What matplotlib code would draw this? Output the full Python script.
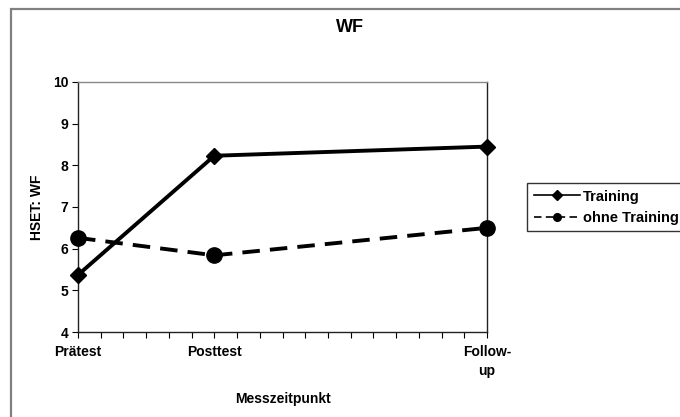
import matplotlib.pyplot as plt
from matplotlib.patches import Rectangle

plt.rcParams['font.family'] = ['Liberation Sans', 'DejaVu Sans']
plt.rcParams['font.weight'] = 'bold'

# Messzeitpunkte (Monate) und Beschriftungen
zeit = [0, 6, 18]
zeit_labels = ['Prätest', 'Posttest', 'Follow-\nup']

training = [5.37, 8.23, 8.45]
ohne_training = [6.26, 5.84, 6.50]

fs = 10

fig = plt.figure(figsize=(6.8, 4.17), dpi=100)
ax = fig.add_axes([78 / 680, 85 / 417, 409 / 680, 250 / 417])

ax.plot(zeit, training, color='black', lw=2.8, marker='D', ms=8.5,
        label='Training', clip_on=False, zorder=3)
ax.plot(zeit, ohne_training, color='black', lw=2.8, marker='o', ms=11,
        dashes=(4.5, 2.6), label='ohne Training', clip_on=False, zorder=3)

ax.set_xlim(0, 18)
ax.set_ylim(4, 10)
ax.set_yticks(range(4, 11))
ax.set_xticks(zeit)
ax.set_xticklabels(zeit_labels, fontsize=fs, fontweight='bold', linespacing=1.5)
ax.set_xticks(range(0, 19), minor=True)
ax.tick_params(axis='y', labelsize=fs, length=4, width=0.8, direction='out', pad=3)
ax.tick_params(axis='x', which='both', length=4, width=0.8, direction='out', pad=5)
for lab in ax.get_yticklabels():
    lab.set_fontweight('bold')

for side in ['left', 'bottom', 'right']:
    ax.spines[side].set_color('#222222')
    ax.spines[side].set_linewidth(1.0)
ax.spines['top'].set_color('#888888')
ax.spines['top'].set_linewidth(1.0)

ax.set_ylabel('HSET: WF', fontsize=fs, fontweight='bold', labelpad=6)
ax.set_xlabel('Messzeitpunkt', fontsize=fs, fontweight='bold', labelpad=10)
fig.text(350 / 680, 1 - 27 / 417, 'WF', fontsize=13, fontweight='bold',
         ha='center', va='center')

leg = ax.legend(loc='upper left', bbox_to_anchor=(527 / 680, 1 - 183 / 417),
                bbox_transform=fig.transFigure, frameon=True, fancybox=False,
                fontsize=fs + 0.5, handlelength=3.2, handletextpad=0.2,
                borderpad=0.45, labelspacing=0.5, borderaxespad=0)
leg.get_frame().set_edgecolor('black')
leg.get_frame().set_linewidth(1.0)
for line in leg.get_lines():
    line.set_linewidth(1.2)
    line.set_markersize(5.5)
for t in leg.get_texts():
    t.set_fontweight('bold')

# grauer Rahmen des Diagrammbereichs
fig.patches.append(Rectangle((11 / 680, -0.05), 1.2, 1 - 9 / 417 + 0.05,
                             transform=fig.transFigure, fill=False,
                             edgecolor='#808080', lw=1.6))

fig.savefig('out.png', dpi=100)
